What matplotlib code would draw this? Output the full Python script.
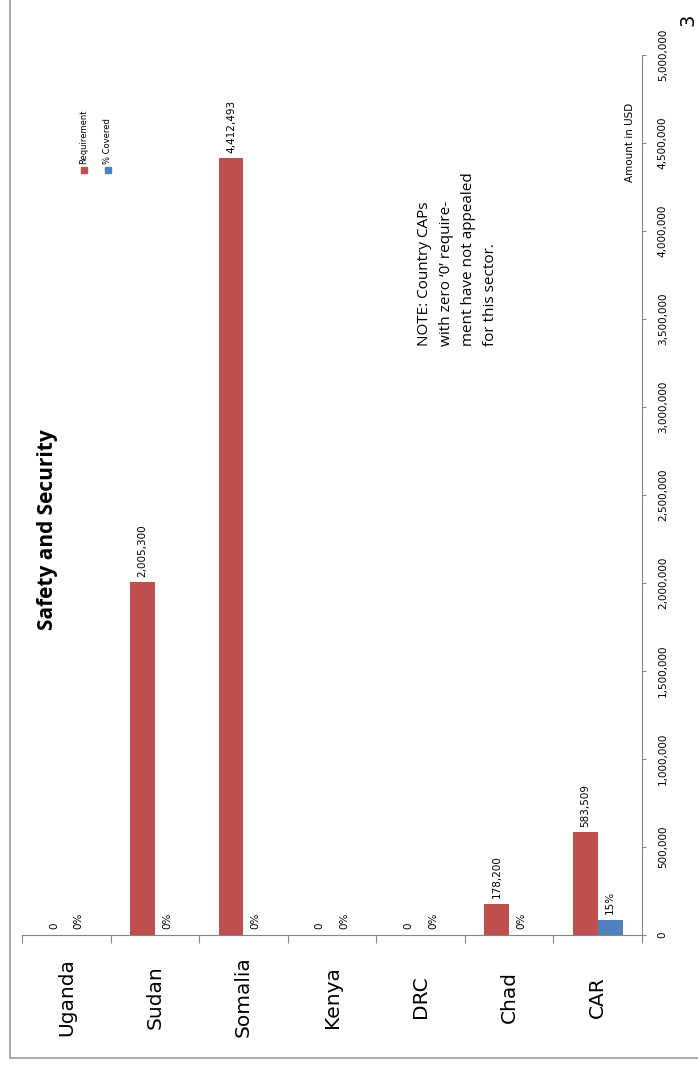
import matplotlib.pyplot as plt
from matplotlib.lines import Line2D
from matplotlib.patches import Rectangle
from matplotlib.ticker import FuncFormatter
import numpy as np

# Safety and Security sector, requirement vs covered amount per country CAP
countries = ['Uganda', 'Sudan', 'Somalia', 'Kenya', 'DRC', 'Chad', 'CAR']
requirement = [0, 2005300, 4412493, 0, 0, 178200, 583509]
pct_covered = [0, 0, 0, 0, 0, 0, 15]
covered = [r * p / 100 for r, p in zip(requirement, pct_covered)]

RED = '#C0504D'
BLUE = '#4F81BD'
GREY = '#868686'

W, H = 698, 1067
fig = plt.figure(figsize=(W / 100, H / 100), dpi=100)


def fx(x):
    return x / W


def fy(y):
    return 1 - y / H


ax = fig.add_axes([fx(22), fy(935), fx(642) - fx(22), fy(55) - fy(935)])

x = np.arange(len(countries))
bw = 0.28
ax.bar(x - bw / 2, requirement, bw, color=RED, label='Requirement')
ax.bar(x + bw / 2, covered, bw, color=BLUE, label='% Covered')

for xi, r, c, p in zip(x, requirement, covered, pct_covered):
    ax.annotate(f'{r:,.0f}', (xi - bw / 2, r), xytext=(0, 4), textcoords='offset points',
                rotation=90, ha='center', va='bottom', fontsize=7.5)
    ax.annotate(f'{p:.0f}%', (xi + bw / 2, c), xytext=(0, 4), textcoords='offset points',
                rotation=90, ha='center', va='bottom', fontsize=7.5)

ax.set_xlim(-0.5, len(countries) - 0.5)
ax.set_ylim(0, 5000000)

# value axis on the right, labels read bottom to top
ax.yaxis.tick_right()
ax.set_yticks(np.arange(0, 5000001, 500000))
ax.yaxis.set_major_formatter(FuncFormatter(lambda v, _: f'{v:,.0f}'))
ax.tick_params(axis='y', direction='out', length=3, color=GREY, pad=12, labelsize=7.5)
for lab in ax.get_yticklabels():
    lab.set_rotation(90)
    lab.set_verticalalignment('center')
    lab.set_horizontalalignment('center')

# category axis: ticks at the group boundaries, names in between
ax.set_xticks(np.arange(-0.5, len(countries), 1.0))
ax.set_xticklabels([])
ax.tick_params(axis='x', direction='out', length=6, color=GREY)
for xi, name in zip(x, countries):
    ax.text(xi, -62 / 880, name, transform=ax.get_xaxis_transform(), rotation=90,
            ha='center', va='center', fontsize=14.5)

for side in ['top', 'left']:
    ax.spines[side].set_visible(False)
ax.spines['bottom'].set_color(GREY)
ax.spines['right'].set_color(GREY)
ax.patch.set_alpha(0)

ax.text((630 - 22) / 620, (935 - 142) / 880, 'Amount in USD', transform=ax.transAxes,
        rotation=90, ha='center', va='center', fontsize=7.5)

fig.text(fx(48), fy(530), 'Safety and Security', rotation=90, ha='center', va='center',
         fontsize=15, fontweight='bold', family='Open Sans')

fig.text(fx(417), fy(346),
         'NOTE: Country CAPs\nwith zero \u20180\u2019 require-\nment have not appealed\nfor this sector.',
         rotation=90, ha='left', va='bottom', fontsize=11, family='Open Sans',
         linespacing=1.65)

# legend drawn sideways
for xc, col, lab in [(84, RED, 'Requirement'), (108, BLUE, '% Covered')]:
    fig.patches.append(Rectangle((fx(xc - 3), fy(173)), 6 / W, 6 / H, color=col,
                                 transform=fig.transFigure, figure=fig))
    fig.text(fx(xc), fy(164), lab, rotation=90, ha='center', va='bottom', fontsize=6)

# page frame and page number
fig.add_artist(Line2D([fx(10), fx(10), 1], [1, fy(1058), fy(1058)], color='#999999', lw=1.2))
fig.text(fx(688), fy(20), '3', rotation=90, ha='center', va='center', fontsize=14)

fig.savefig('out.png', dpi=100)
